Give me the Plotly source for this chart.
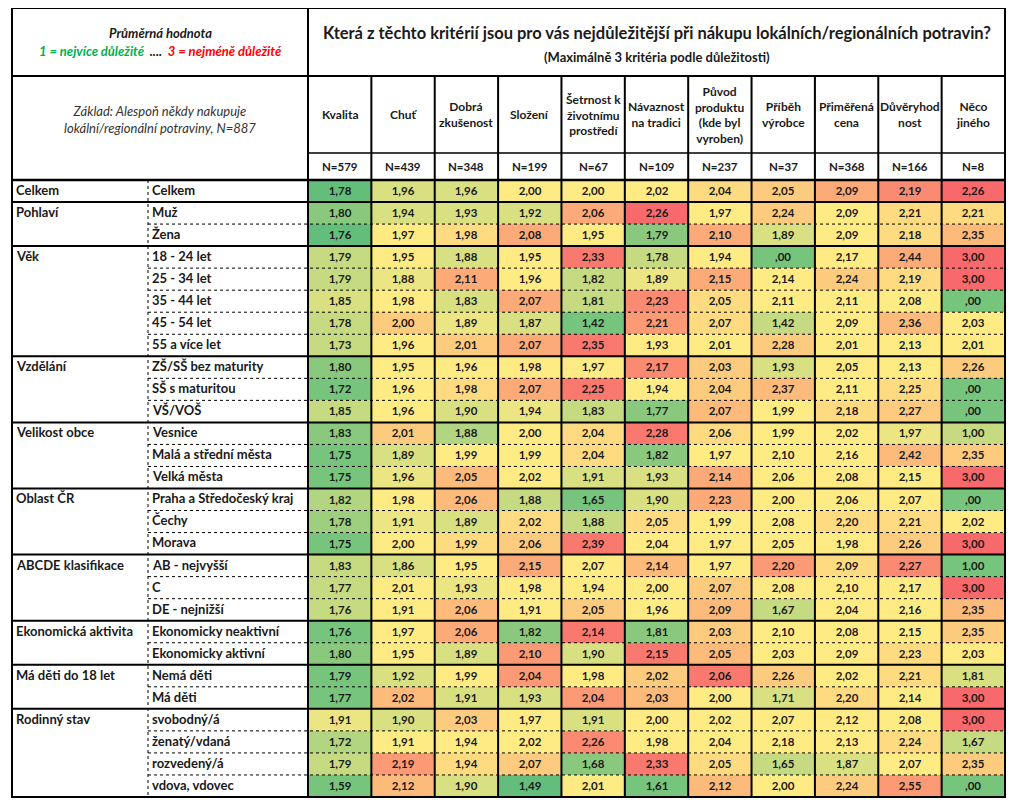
import plotly.graph_objects as go

FONT = "Lato"
GREEN, YELLOW, RED = "#63BE7B", "#FFEB84", "#F8696B"

criteria = ["Kvalita", "Chuť", "Dobrá<br>zkušenost", "Složení",
            "Šetrnost k<br>životnímu<br>prostředí", "Návaznost<br>na tradici",
            "Původ<br>produktu<br>(kde byl<br>vyroben)", "Příběh<br>výrobce",
            "Přiměřená<br>cena", "Důvěryhod<br>nost", "Něco<br>jiného"]
n_counts = [579, 439, 348, 199, 67, 109, 237, 37, 368, 166, 8]

groups = [
    ("Celkem", ["Celkem"]),
    ("Pohlaví", ["Muž", "Žena"]),
    ("Věk", ["18 - 24 let", "25 - 34 let", "35 - 44 let", "45 - 54 let", "55 a více let"]),
    ("Vzdělání", ["ZŠ/SŠ bez maturity", "SŠ s maturitou", "VŠ/VOŠ"]),
    ("Velikost obce", ["Vesnice", "Malá a střední města", "Velká města"]),
    ("Oblast ČR", ["Praha a Středočeský kraj", "Čechy", "Morava"]),
    ("ABCDE klasifikace", ["AB - nejvyšší", "C", "DE - nejnižší"]),
    ("Ekonomická aktivita", ["Ekonomicky neaktivní", "Ekonomicky aktivní"]),
    ("Má děti do 18 let", ["Nemá děti", "Má děti"]),
    ("Rodinný stav", ["svobodný/á", "ženatý/vdaná", "rozvedený/á", "vdova, vdovec"]),
]

# mean rank per segment (rows) and criterion (columns)
values = [
    [1.78, 1.96, 1.96, 2.00, 2.00, 2.02, 2.04, 2.05, 2.09, 2.19, 2.26],
    [1.80, 1.94, 1.93, 1.92, 2.06, 2.26, 1.97, 2.24, 2.09, 2.21, 2.21],
    [1.76, 1.97, 1.98, 2.08, 1.95, 1.79, 2.10, 1.89, 2.09, 2.18, 2.35],
    [1.79, 1.95, 1.88, 1.95, 2.33, 1.78, 1.94, 0.00, 2.17, 2.44, 3.00],
    [1.79, 1.88, 2.11, 1.96, 1.82, 1.89, 2.15, 2.14, 2.24, 2.19, 3.00],
    [1.85, 1.98, 1.83, 2.07, 1.81, 2.23, 2.05, 2.11, 2.11, 2.08, 0.00],
    [1.78, 2.00, 1.89, 1.87, 1.42, 2.21, 2.07, 1.42, 2.09, 2.36, 2.03],
    [1.73, 1.96, 2.01, 2.07, 2.35, 1.93, 2.01, 2.28, 2.01, 2.13, 2.01],
    [1.80, 1.95, 1.96, 1.98, 1.97, 2.17, 2.03, 1.93, 2.05, 2.13, 2.26],
    [1.72, 1.96, 1.98, 2.07, 2.25, 1.94, 2.04, 2.37, 2.11, 2.25, 0.00],
    [1.85, 1.96, 1.90, 1.94, 1.83, 1.77, 2.07, 1.99, 2.18, 2.27, 0.00],
    [1.83, 2.01, 1.88, 2.00, 2.04, 2.28, 2.06, 1.99, 2.02, 1.97, 1.00],
    [1.75, 1.89, 1.99, 1.99, 2.04, 1.82, 1.97, 2.10, 2.16, 2.42, 2.35],
    [1.75, 1.96, 2.05, 2.02, 1.91, 1.93, 2.14, 2.06, 2.08, 2.15, 3.00],
    [1.82, 1.98, 2.06, 1.88, 1.65, 1.90, 2.23, 2.00, 2.06, 2.07, 0.00],
    [1.78, 1.91, 1.89, 2.02, 1.88, 2.05, 1.99, 2.08, 2.20, 2.21, 2.02],
    [1.75, 2.00, 1.99, 2.06, 2.39, 2.04, 1.97, 2.05, 1.98, 2.26, 3.00],
    [1.83, 1.86, 1.95, 2.15, 2.07, 2.14, 1.97, 2.20, 2.09, 2.27, 1.00],
    [1.77, 2.01, 1.93, 1.98, 1.94, 2.00, 2.07, 2.08, 2.10, 2.17, 3.00],
    [1.76, 1.91, 2.06, 1.91, 2.05, 1.96, 2.09, 1.67, 2.04, 2.16, 2.35],
    [1.76, 1.97, 2.06, 1.82, 2.14, 1.81, 2.03, 2.10, 2.08, 2.15, 2.35],
    [1.80, 1.95, 1.89, 2.10, 1.90, 2.15, 2.05, 2.03, 2.09, 2.23, 2.03],
    [1.79, 1.92, 1.99, 2.04, 1.98, 2.02, 2.06, 2.26, 2.02, 2.21, 1.81],
    [1.77, 2.02, 1.91, 1.93, 2.04, 2.03, 2.00, 1.71, 2.20, 2.14, 3.00],
    [1.91, 1.90, 2.03, 1.97, 1.91, 2.00, 2.02, 2.07, 2.12, 2.08, 3.00],
    [1.72, 1.91, 1.94, 2.02, 2.26, 1.98, 2.04, 2.18, 2.13, 2.24, 1.67],
    [1.79, 2.19, 1.94, 2.07, 1.68, 2.33, 2.05, 1.65, 1.87, 2.07, 2.35],
    [1.59, 2.12, 1.90, 1.49, 2.01, 1.61, 2.12, 2.00, 2.24, 2.55, 0.00],
]

# conditional-format shade: 0 = green, 4 = yellow, 8 = red
shade = [
    [0, 3, 3, 4, 4, 4, 4.5, 5, 6, 7, 8],
    [1, 3, 3, 3, 6, 8, 4, 5, 4, 4.5, 4.5],
    [0, 4, 4.5, 6, 4, 1, 6, 3, 4, 4.5, 5.5],
    [2.5, 4, 3, 4, 7.5, 2.5, 4, 0.5, 4, 6, 8],
    [2.5, 3.5, 6, 4, 2.5, 3.5, 6, 4, 5, 4.5, 8],
    [3, 4, 3, 6, 2.5, 7, 4.5, 4, 4, 4, 0.5],
    [2.5, 5, 3.5, 3, 0.5, 6.5, 4.5, 2.5, 4, 5.5, 4],
    [2.5, 4, 5, 6, 7.5, 4, 4, 5, 4, 4, 4],
    [1, 4, 4, 4, 4, 7, 5, 3, 4, 4, 5],
    [0.5, 4, 4.5, 6, 7.5, 4, 5, 5.5, 4, 4.5, 0.5],
    [2.5, 4, 3, 3.5, 2.5, 1, 5.5, 4, 4.5, 5, 0.5],
    [1, 5, 2, 4, 4.5, 7.5, 4.5, 4, 4, 3.5, 2.5],
    [0.5, 3, 4, 4, 4.5, 1, 4, 4, 4, 5.5, 5],
    [0.5, 3.5, 5.5, 4, 3, 3, 6, 4, 4, 4, 8],
    [2, 4, 5.5, 2.5, 0.5, 3, 6, 4, 4, 4, 0.5],
    [1.5, 3.5, 3, 4.5, 2.5, 4.5, 4, 4, 4.5, 4.5, 4],
    [0.5, 4, 4.5, 5, 7.5, 4, 4, 4, 4, 5, 8],
    [2.5, 3, 4, 6, 4, 5.5, 4, 6.5, 4.5, 7, 0.5],
    [2.5, 4, 3.5, 4, 4, 4, 5, 4, 4, 4, 8],
    [2.5, 4, 5.5, 4, 5, 4, 5.5, 2.5, 4, 4, 5.5],
    [0.5, 4, 6, 1, 7.5, 1, 5, 4, 4, 4, 5],
    [1, 4, 3, 6.5, 3, 7.5, 5.5, 4, 4, 4.5, 4],
    [0.5, 3, 4, 6.5, 4, 5, 7.5, 5, 4, 4.5, 3],
    [0.5, 5.5, 3, 3, 6.5, 5.5, 4, 3, 4.5, 4, 8],
    [3.5, 3, 5, 4, 3, 4, 4, 4, 4, 4, 8],
    [2, 4, 4, 4, 7, 4, 4, 4, 4, 4.5, 2.5],
    [2.5, 6.5, 4.5, 5, 1, 7.5, 4.5, 2.5, 3, 4, 5],
    [0.5, 5.5, 3, 0, 4, 0.5, 5.5, 4, 5, 6.5, 0.5],
]


def fmt(v):
    s = f"{v:.2f}".replace(".", ",")
    return s[1:] if s.startswith("0,") else s


# table frame in page pixels (the page body adds an 8px margin, hence the offset ranges)
L, R, TOP, H1, H2, H3, BOT = 12, 1005, 8, 76, 153, 180, 797
XG, XD = 148, 308
ncol, nrow = len(criteria), len(values)
cw = (R - XD) / ncol
rh = (BOT - H3) / nrow
x_edges = [XD + i * cw for i in range(ncol + 1)]
y_edges = [H3 + i * rh for i in range(nrow + 1)]

fig = go.Figure(go.Heatmap(
    z=shade, x=x_edges, y=y_edges, zmin=0, zmax=8,
    colorscale=[[0, GREEN], [0.5, YELLOW], [1, RED]], showscale=False,
    text=[[fmt(v) for v in row] for row in values], texttemplate="%{text}",
    textfont=dict(family=FONT, size=11.5, color="#1a1a1a", weight="bold"),
    hoverinfo="skip"))

shapes, ann = [], []


def line(x0, y0, x1, y1, w=2, dash="solid"):
    shapes.append(dict(type="line", x0=x0, y0=y0, x1=x1, y1=y1,
                       line=dict(color="black", width=w, dash=dash)))


def text(x, y, s, size=12, xa="center", ya="middle", color="#1a1a1a"):
    ann.append(dict(x=x, y=y, text=s, showarrow=False, xanchor=xa, yanchor=ya,
                    font=dict(family=FONT, size=size, color=color)))


# header
text((L + XD) / 2, 33, "<b><i>Průměrná hodnota</i></b>", size=13)
text((L + XD) / 2, 51, "<b><i><span style='color:#00B050'>1 = nejvíce důležité</span>"
     "  ....  <span style='color:#FF0000'>3 = nejméně důležité</span></i></b>", size=13)
text((L + XD) / 2, 119, "<i>Základ: Alespoň někdy nakupuje<br>lokální/regionální potraviny, N=887</i>",
     size=13, color="#333333")
text((XD + R) / 2, 33, "<b>Která z těchto kritérií jsou pro vás nejdůležitější při nákupu "
     "lokálních/regionálních potravin?</b>", size=16.5)
text((XD + R) / 2, 57, "<b>(Maximálně 3 kritéria podle důležitosti)</b>", size=13)
for i, (c, n) in enumerate(zip(criteria, n_counts)):
    cx = XD + (i + 0.5) * cw
    text(cx, (H1 + H2) / 2, f"<b>{c}</b>", size=12)
    text(cx, (H2 + H3) / 2, f"<b>N={n}</b>", size=11.5)

# row labels and group rules
r = 0
for g, subs in groups:
    text(L + 2, H3 + (r + 0.45) * rh, f"<b>{g}</b>", size=13, xa="left")
    for j, s in enumerate(subs):
        text(XG + 2, H3 + (r + j + 0.45) * rh, f"<b>{s}</b>", size=13, xa="left")
        if j > 0:
            line(XG, H3 + (r + j) * rh, R, H3 + (r + j) * rh, w=1, dash="dot")
    r += len(subs)
    if r < nrow:
        line(L, H3 + r * rh, R, H3 + r * rh, w=2)

# grid
line(XG, H3, XG, BOT, w=1, dash="dot")
for i in range(1, ncol):
    line(XD + i * cw, H1, XD + i * cw, BOT, w=2)
line(XD, TOP, XD, BOT, w=2)
line(L, H1, R, H1, w=2)
line(XD, H2, R, H2, w=1.5)
line(L, H3, R, H3, w=2.5)
shapes.append(dict(type="rect", x0=L, y0=TOP, x1=R, y1=BOT,
                   line=dict(color="black", width=2)))

fig.update_layout(
    width=1016, height=792, margin=dict(l=0, r=0, t=0, b=0),
    plot_bgcolor="white", paper_bgcolor="white", shapes=shapes, annotations=ann,
    xaxis=dict(range=[8, 1024], visible=False, fixedrange=True),
    yaxis=dict(range=[800, 8], visible=False, fixedrange=True),
)
fig.write_html("out.html")
